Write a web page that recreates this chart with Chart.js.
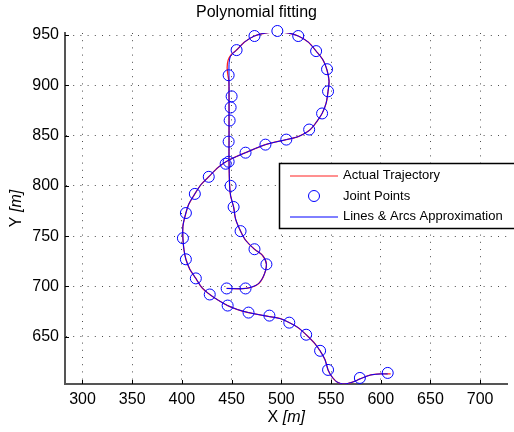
<!DOCTYPE html>
<html>
<head>
<meta charset="utf-8">
<title>Polynomial fitting</title>
<script src="https://cdn.jsdelivr.net/npm/chart.js@4.4.1/dist/chart.umd.min.js"></script>
<style>
  html, body { margin: 0; padding: 0; background: #fff; }
  #wrap { width: 514px; height: 432px; }
</style>
</head>
<body>
<div id="wrap"><canvas id="chart" width="514" height="432"></canvas></div>
<script>
//axis ranges and tick labels (metres)
const xRange = [282.4, 727.5];
const yRange = [603, 952];
const xTicks = [300, 350, 400, 450, 500, 550, 600, 650, 700];
const yTicks = [650, 700, 750, 800, 850, 900, 950];

//joint points, in order along the path
const jointX = [445, 464, 485, 473, 459, 452, 449, 447, 447, 448, 449, 450, 447, 455, 473, 496, 517, 535, 546, 547, 541, 528, 505, 484, 464, 444, 427, 413, 404, 401, 404, 414, 428, 446, 467, 488, 508, 525, 539, 547, 579, 607];
const jointY = [698, 698, 722, 737, 755, 779, 800, 824, 844, 865, 878, 889, 910, 935, 949, 954, 949, 934, 916, 894, 872, 856, 846, 841, 833, 822, 809, 792, 773, 748, 727, 708, 692, 681, 674, 671, 664, 652, 636, 617, 609, 614];

//actual trajectory (red)
const trajX = [445, 464, 476, 482, 485, 481, 473, 464, 459, 454, 452, 449, 448, 447.4, 447.4, 447.4, 447.4, 447.2, 446, 445.5, 446.5, 450, 455, 463, 473, 484, 496, 507, 517, 527, 535, 542, 546, 548, 547, 545, 541, 535, 528, 517, 505, 484, 464, 446, 436, 427, 419, 413, 407, 404, 401, 401, 402, 404, 408, 414, 420, 428, 437, 446, 456, 467, 488, 499, 508, 517, 525, 533, 539, 544, 547, 551, 556, 563, 572, 579, 590, 600, 610];
const trajY = [698, 698, 702, 710, 722, 731, 737, 746, 755, 767, 779, 790, 800, 824, 845, 865, 888, 904, 912, 918, 925, 931, 935, 943, 949, 952, 953, 952, 949, 943, 934, 925, 915, 904, 894, 882, 872, 863, 855, 849, 846, 841, 833, 825, 818, 809, 801, 792, 782, 773, 760, 748, 737, 727, 717, 708, 699, 692, 686, 681, 677, 674, 670, 668, 664, 659, 652, 644, 636, 627, 617, 610, 605, 603, 605, 608, 612, 613, 613];

//lines & arcs approximation (blue)
const approxX = [445, 464, 476, 482, 485, 481, 473, 464, 459, 454, 452, 449, 448, 447.4, 447.4, 447.4, 447.4, 447.4, 447.4, 449, 455, 463, 473, 484, 496, 507, 517, 527, 535, 542, 546, 548, 547, 545, 541, 535, 528, 517, 505, 484, 464, 446, 436, 427, 419, 413, 407, 404, 401, 401, 402, 404, 408, 414, 420, 428, 437, 446, 456, 467, 488, 499, 508, 517, 525, 533, 539, 544, 547, 551, 556, 563, 572, 579, 590, 600, 607];
const approxY = [698, 698, 702, 710, 722, 731, 737, 746, 755, 767, 779, 790, 800, 824, 845, 865, 888, 910, 921, 929, 935, 943, 949, 952, 953, 952, 949, 943, 934, 925, 915, 904, 894, 882, 872, 863, 855, 849, 846, 841, 833, 825, 818, 809, 801, 792, 782, 773, 760, 748, 737, 727, 717, 708, 699, 692, 686, 681, 677, 674, 670, 668, 664, 659, 652, 644, 636, 627, 617, 610, 605, 603, 605, 608, 612, 613, 613];

const fontFamily = "'Liberation Sans', Arial, Helvetica, sans-serif";
const toPoints = (xs, ys) => xs.map((v, i) => ({x: v, y: ys[i]}));

//draws "X [m]" style labels, unit part in italics
function drawUnitLabel(ctx, name, unit, cx, cy, angle) {
    ctx.save();
    ctx.translate(cx, cy);
    ctx.rotate(angle);
    ctx.fillStyle = '#000';
    ctx.textBaseline = 'middle';
    ctx.textAlign = 'left';
    ctx.font = '16px ' + fontFamily;
    const w1 = ctx.measureText(name).width;
    ctx.font = 'italic 16px ' + fontFamily;
    const w2 = ctx.measureText(unit).width;
    const start = -(w1 + w2) / 2;
    ctx.font = '16px ' + fontFamily;
    ctx.fillText(name, start, 0);
    ctx.font = 'italic 16px ' + fontFamily;
    ctx.fillText(unit, start + w1, 0);
    ctx.restore();
}

//matlab look: inward ticks, axis titles and boxed legend
const matlabExtras = {
    id: 'matlabExtras',
    afterDraw(chart) {
        const ctx = chart.ctx;
        const a = chart.chartArea;
        const x = chart.scales.x;
        const y = chart.scales.y;
        ctx.save();
        ctx.strokeStyle = '#000';
        ctx.lineWidth = 1;
        ctx.beginPath();
        xTicks.forEach(v => {
            const px = Math.round(x.getPixelForValue(v)) + 0.5;
            ctx.moveTo(px, a.bottom);
            ctx.lineTo(px, a.bottom - 4);
        });
        yTicks.forEach(v => {
            const py = Math.round(y.getPixelForValue(v)) + 0.5;
            ctx.moveTo(a.left, py);
            ctx.lineTo(a.left + 4, py);
        });
        ctx.stroke();

        drawUnitLabel(ctx, 'X ', '[m]', (a.left + a.right) / 2, 418, 0);
        drawUnitLabel(ctx, 'Y ', '[m]', 17, (a.top + a.bottom) / 2, -Math.PI / 2);

        //legend box
        const box = {left: 279.5, top: 163.5, right: 530, bottom: 228.5};
        ctx.fillStyle = '#fff';
        ctx.fillRect(box.left, box.top, box.right - box.left, box.bottom - box.top);
        ctx.strokeStyle = '#000';
        ctx.lineWidth = 1.5;
        ctx.strokeRect(box.left, box.top, box.right - box.left, box.bottom - box.top);
        const rows = [175.5, 196, 216.5];
        const ds = chart.data.datasets;
        ctx.font = '13px ' + fontFamily;
        ctx.textBaseline = 'middle';
        ctx.textAlign = 'left';
        ds.forEach((d, i) => {
            const ry = rows[i];
            if (d.showLine) {
                ctx.strokeStyle = d.borderColor;
                ctx.lineWidth = 1;
                ctx.beginPath();
                ctx.moveTo(290, ry + 0.5);
                ctx.lineTo(338, ry + 0.5);
                ctx.stroke();
            } else {
                ctx.strokeStyle = d.pointBorderColor;
                ctx.lineWidth = 1;
                ctx.beginPath();
                ctx.arc(314, ry, 5.5, 0, Math.PI * 2);
                ctx.stroke();
            }
            ctx.fillStyle = '#000';
            ctx.fillText(d.label, 343, ry);
        });
        ctx.restore();
    }
};

new Chart(document.getElementById('chart').getContext('2d'), {
    type: 'scatter',
    data: {
        datasets: [{
            label: 'Actual Trajectory',
            data: toPoints(trajX, trajY),
            showLine: true,
            borderColor: '#ff2020',
            borderWidth: 1.3,
            pointRadius: 0,
            tension: 0.3,
            order: 3
        }, {
            label: 'Joint Points',
            data: toPoints(jointX, jointY),
            showLine: false,
            pointRadius: 5.5,
            pointBorderColor: '#0000ff',
            pointBackgroundColor: 'rgba(0,0,0,0)',
            pointBorderWidth: 1,
            clip: false,
            order: 2
        }, {
            label: 'Lines & Arcs Approximation',
            data: toPoints(approxX, approxY),
            showLine: true,
            borderColor: '#0000ff',
            borderWidth: 1,
            pointRadius: 0,
            tension: 0.3,
            order: 1
        }]
    },
    options: {
        responsive: false,
        animation: false,
        events: [],
        layout: {padding: {top: 0, right: 1, bottom: 0, left: 0}},
        plugins: {
            legend: {display: false},
            tooltip: {enabled: false},
            title: {
                display: true,
                text: 'Polynomial fitting',
                color: '#000',
                font: {family: fontFamily, size: 16, weight: 'normal'},
                padding: {top: 3.4, bottom: 10.4}
            }
        },
        scales: {
            x: {
                type: 'linear',
                min: xRange[0],
                max: xRange[1],
                grid: {color: 'rgba(0,0,0,0.7)', lineWidth: 1, drawTicks: false},
                border: {display: true, color: '#555', width: 2, dash: [1, 6.2]},
                ticks: {color: '#000', padding: 6, font: {family: fontFamily, size: 16}},
                afterBuildTicks: s => { s.ticks = xTicks.map(v => ({value: v})); },
                afterFit: s => { s.height = 48; }
            },
            y: {
                type: 'linear',
                min: yRange[0],
                max: yRange[1],
                grid: {color: 'rgba(0,0,0,0.7)', lineWidth: 1, drawTicks: false},
                border: {display: true, color: '#555', width: 2, dash: [1, 6.2]},
                ticks: {color: '#000', padding: 6, font: {family: fontFamily, size: 16}},
                afterBuildTicks: s => { s.ticks = yTicks.map(v => ({value: v})); },
                afterFit: s => { s.width = 65; }
            }
        }
    },
    plugins: [matlabExtras]
});
</script>
</body>
</html>
